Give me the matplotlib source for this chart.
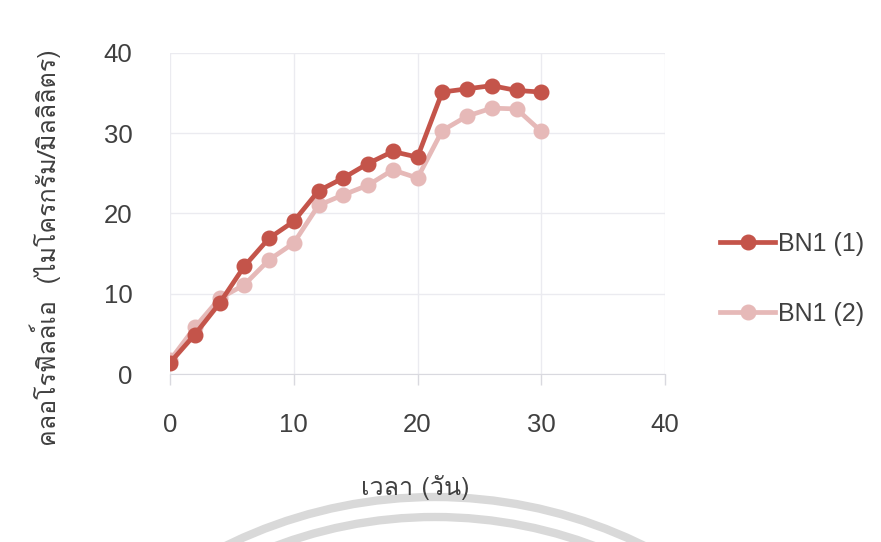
import matplotlib
matplotlib.use("Agg")
import matplotlib.pyplot as plt
from matplotlib import font_manager
from matplotlib.ft2font import FT2Font
from matplotlib.patches import Arc

# Pick an installed family that actually has Thai glyphs
def thai_family():
    for fe in font_manager.fontManager.ttflist:
        try:
            if 0x0E04 in FT2Font(fe.fname).get_charmap():
                return fe.name
        except Exception:
            pass
    return None

tf = thai_family()
thai_fams = ([tf] if tf else []) + ["DejaVu Sans"]
plt.rcParams["font.family"] = ["Liberation Sans", "DejaVu Sans"]

days = [0, 2, 4, 6, 8, 10, 12, 14, 16, 18, 20, 22, 24, 26, 28, 30]
bn1_1 = [1.4, 4.9, 8.8, 13.4, 16.9, 19.0, 22.8, 24.4, 26.2, 27.7, 27.0, 35.1, 35.5, 35.9, 35.3, 35.1]
bn1_2 = [1.7, 5.8, 9.4, 11.1, 14.2, 16.3, 21.0, 22.3, 23.5, 25.4, 24.4, 30.3, 32.1, 33.1, 33.0, 30.2]
series_names = ["BN1 (1)", "BN1 (2)"]
x_ticks = [0, 10, 20, 30, 40]
y_ticks = [0, 10, 20, 30, 40]
xlabel = "เวลา (วัน)"
ylabel = "คลอโรฟิลล์เอ  (ไมโครกรัม/มิลลิลิตร)"

TXT = "#404040"
W, H = 881, 542
fig = plt.figure(figsize=(W / 100, H / 100), dpi=100)

# background watermark arcs
bg = fig.add_axes([0, 0, 1, 1], zorder=0)
bg.set_xlim(0, W)
bg.set_ylim(H, 0)
bg.axis("off")
for r in (473, 453):
    bg.add_patch(Arc((435, 970), 2 * r, 2 * r, theta1=180, theta2=360,
                     color="#d9d9d9", lw=6))

ax = fig.add_axes([170 / W, (H - 374) / H, (665 - 170) / W, (374 - 52.7) / H], zorder=1)
ax.patch.set_alpha(0)

ax.plot(days, bn1_1, "-o", color="#c4544a", lw=3.4, ms=10.5, label=series_names[0], zorder=3)
ax.plot(days, bn1_2, "-o", color="#e6b9b8", lw=3.4, ms=10.5, label=series_names[1], zorder=2)

ax.set_xlim(0, 40)
ax.set_ylim(0, 40)
ax.set_xticks(x_ticks)
ax.set_yticks(y_ticks)
ax.grid(True, color="#ebebf0", lw=1)
ax.set_axisbelow(True)
for s in ("top", "right", "left"):
    ax.spines[s].set_visible(False)
ax.spines["bottom"].set_color("#d9d9df")
ax.tick_params(axis="y", length=0, pad=27, labelsize=18.5, colors=TXT)
ax.tick_params(axis="x", length=8, width=1, color="#d9d9df", pad=20, labelsize=18.5, labelcolor=TXT)

fig.text(415 / W, 1 - 487 / H, xlabel, ha="center", va="center", fontsize=18,
         color=TXT, family=thai_fams)
fig.text(45 / W, 1 - 248 / H, ylabel, ha="center", va="center", rotation=90, fontsize=18,
         color=TXT, family=thai_fams)

fig.legend(loc="center left", bbox_to_anchor=(720 / W, 1 - 279 / H), frameon=False,
           fontsize=18, handlelength=2.2, labelspacing=1.85, handletextpad=0.12,
           borderpad=0, borderaxespad=0, labelcolor=TXT)

fig.savefig("out.png", dpi=100)
